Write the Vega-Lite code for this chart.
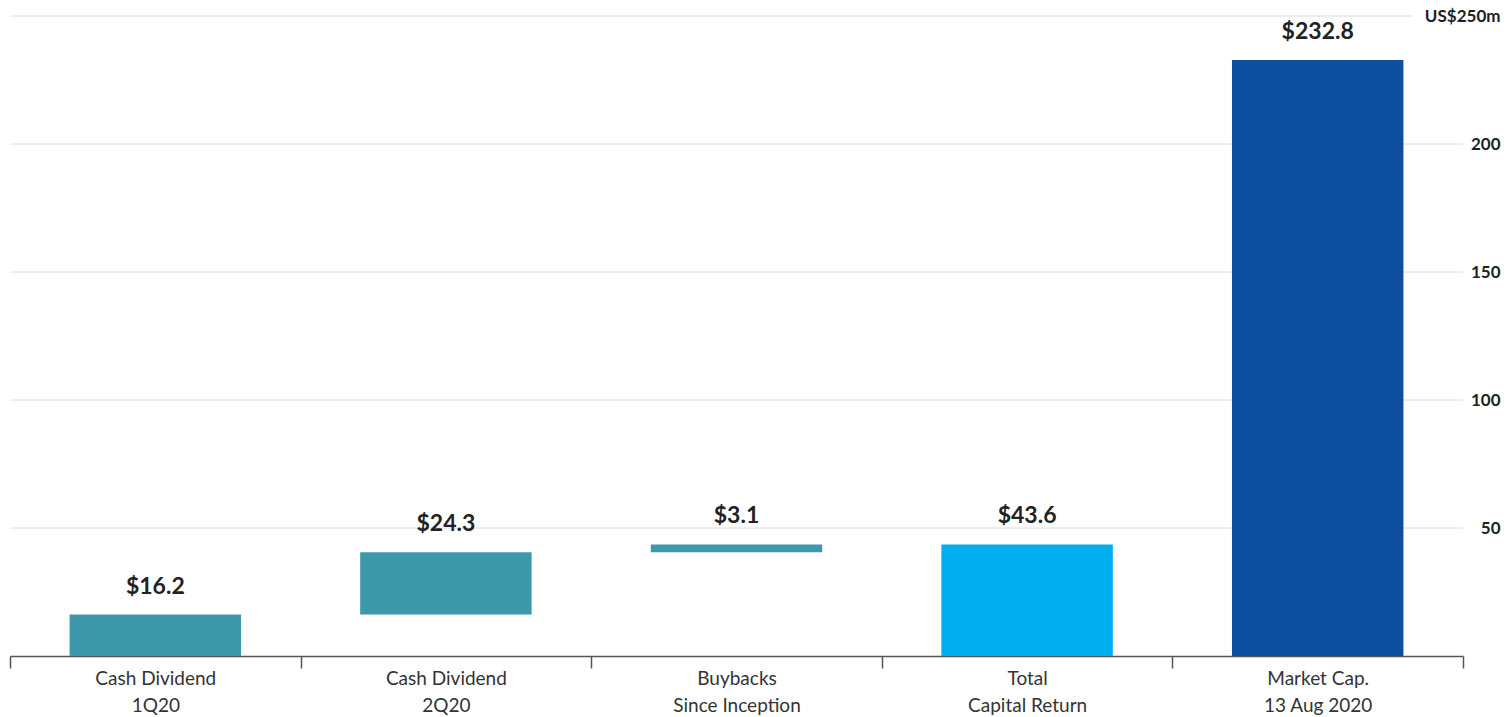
{
  "$schema": "https://vega.github.io/schema/vega-lite/v6.json",
  "width": 1453,
  "height": 640,
  "autosize": {"type": "none"},
  "padding": {"left": 10, "top": 16, "right": 45, "bottom": 61},
  "background": "white",
  "config": {"view": {"stroke": null}, "font": "Lato"},
  "data": {
    "values": [
      {"cat": "Cash Dividend|1Q20", "start": 0, "end": 16.2, "label": "$16.2", "kind": "div"},
      {"cat": "Cash Dividend|2Q20", "start": 16.2, "end": 40.5, "label": "$24.3", "kind": "div"},
      {"cat": "Buybacks|Since Inception", "start": 40.5, "end": 43.6, "label": "$3.1", "kind": "div"},
      {"cat": "Total|Capital Return", "start": 0, "end": 43.6, "label": "$43.6", "kind": "total"},
      {"cat": "Market Cap.|13 Aug 2020", "start": 0, "end": 232.8, "label": "$232.8", "kind": "mcap"}
    ]
  },
  "layer": [
    {
      "data": {"values": [{"v": 50}, {"v": 100}, {"v": 150}, {"v": 200}]},
      "mark": {"type": "rule", "color": "#dcdcdc", "strokeWidth": 1},
      "encoding": {
        "y": {"field": "v", "type": "quantitative"}
      }
    },
    {
      "data": {"values": [{"v": 250}]},
      "mark": {"type": "rule", "color": "#dcdcdc", "strokeWidth": 1},
      "encoding": {
        "y": {"field": "v", "type": "quantitative"},
        "x": {"datum": 0, "type": "quantitative", "scale": {"domain": [0, 1]}, "axis": null},
        "x2": {"datum": 0.9656}
      }
    },
    {
      "layer": [
        {
          "mark": {"type": "bar", "width": {"band": 0.59}},
          "encoding": {
            "x": {
              "field": "cat", "type": "nominal", "sort": null,
              "scale": {"paddingInner": 0, "paddingOuter": 0},
              "axis": {
                "title": null,
                "labelAngle": 0,
                "labelExpr": "split(datum.label, '|')",
                "labelFont": "Lato",
                "labelFontSize": 19,
                "labelColor": "#333333",
                "labelLineHeight": 27,
                "labelPadding": 1,
                "tickBand": "extent",
                "tickSize": 12,
                "tickColor": "#555555",
                "tickWidth": 1.5,
                "domainColor": "#555555",
                "domainWidth": 1.5,
                "grid": false
              }
            },
            "y": {
              "field": "start", "type": "quantitative",
              "scale": {"domain": [0, 250], "nice": false},
              "axis": {
                "orient": "right",
                "title": null,
                "values": [50, 100, 150, 200, 250],
                "labelExpr": "datum.value == 250 ? 'US$250m' : datum.label",
                "grid": false,
                "domain": false,
                "ticks": false,
                "labelAlign": "right",
                "labelBaseline": "middle",
                "labelPadding": 37,
                "labelFont": "Lato",
                "labelFontSize": 17,
                "labelFontWeight": "bold",
                "labelColor": "#222222"
              }
            },
            "y2": {"field": "end"},
            "color": {
              "field": "kind", "type": "nominal",
              "scale": {"domain": ["div", "total", "mcap"], "range": ["#3D98AA", "#00AEEF", "#0D4EA0"]},
              "legend": null
            }
          }
        },
        {
          "mark": {"type": "text", "font": "Lato", "fontSize": 23, "fontWeight": "bold", "color": "#222222", "baseline": "alphabetic", "dy": -21},
          "encoding": {
            "x": {"field": "cat", "type": "nominal", "sort": null},
            "y": {"field": "end", "type": "quantitative"},
            "text": {"field": "label"}
          }
        }
      ]
    }
  ],
  "resolve": {"scale": {"x": "independent"}}
}
